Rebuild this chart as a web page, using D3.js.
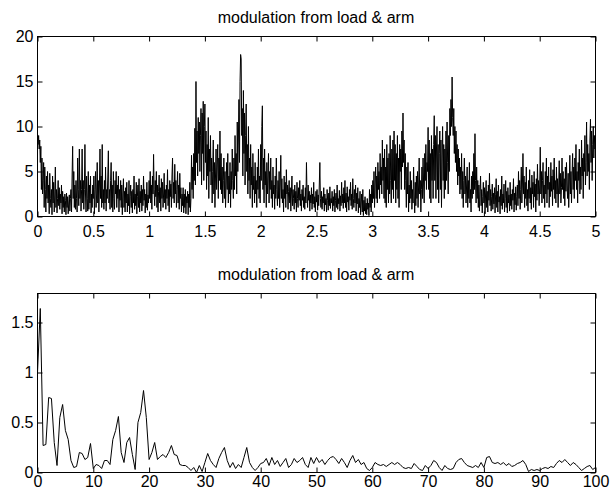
<!DOCTYPE html>
<html>
<head>
<meta charset="utf-8">
<script src="https://cdn.jsdelivr.net/npm/d3@7"></script>
<style>
  html, body { margin: 0; padding: 0; background: #fff; }
  svg text { font-family: "Liberation Sans", Arial, sans-serif; }
</style>
</head>
<body>
<div id="chart"></div>
<script>
// time signal, 0.005 s per sample, one array per half second
const sigA = [9.2,8,9,7.5,8.5,6,7.8,3,6.5,2.5, 4,6,1,5.5,3,0.5,4.5,2,5,1.5, 3.5,0.3,4.8,2,1,3,0.2,4.5,1.5,3.8,
  0.5,2.5,5.5,1,3,0.4,2,4,1.2,3.2, 0.8,2.5,1.5,3.5,0.3,2.8,1,2.2,0.5,2.5, 1.8,0.2,2.6,1,2.2,0.3,1.5,2.4,0.6,2,
  3,0.5,4.5,7.8,2,5,1,3.5,0.8,4, 2,0.5,6.5,3,1.2,7.5,2,4,0.6,3, 7.5,1.5,4,0.8,3,8,2.5,0.5,4.5,2, 0.6,5,0.8,3.5,1.5,4.5,0.4,2.5,1,3.5];
const sigB = [2,4.5,0.3,3,5,1,2.5,6,1.5,4, 0.5,3.5,7.5,2,4.5,1,8,1.5,3,0.8, 4,1.5,5.5,0.6,3,2,4.5,7.3,1.5,3,
  0.8,4,6,1,3.5,0.5,5,2,0.8,4, 2.5,5,1,3.5,2,4.5,0.5,3,1.8,4, 1,3.5,0.2,2.5,4.2,1,2.8,0.5,3.2,1.5,
  3.8,0.5,2.5,1.2,4,0.3,2.2,3.5,1,2.8, 0.4,3,1.5,4.5,0.8,2.5,1.2,3.8,0.3,2.2, 3.5,1,4.2,0.5,2.8,1.5,3.5,0.6,3,1.2,
  4.5,1.8,3,0.4,2.5,1,3.8,0.7,2.4,1.5];
const sigC = [4,2,5,1.5,3.5,0.8,4.5,2.5,6.9,3, 1.2,4,2.2,5,1,3.5,0.5,2.8,4.6,1.5, 3.2,0.6,4.2,2,3.8,1,2.5,4.8,1.5,3,
  0.8,3.5,2,5.2,1.2,3,0.5,4,2.2,3.6, 1,4.5,6.5,2,3.8,1.5,5.8,2.5,4,1, 3,5,1.5,3.5,0.8,4.8,2,3.2,0.5,2.5,
  1.2,3.2,0.4,2.5,1,3,0.3,2.2,1.5,2.8, 0.2,2.5,1,3.8,0.5,2,6.8,3,5.5,2, 7,4,9.8,3.5,15,6,9.5,4.5,11,7,
  10.5,5,9,12,3.5,11.5,7,12.8,4,10];
const sigD = [12.5,6,9.5,3,8,4.5,11,2,7.5,5, 9,3.5,6.5,1.5,5,8.5,2.5,6,1,4.5, 7.5,3,5.5,8,2,6.5,4,9.5,3,7,
  2.5,5.5,1.5,4,6.5,2,5,1,3.5,6, 3,7,1.5,4.5,2.5,6,1,5,3,7.5, 4,2,6.5,3,9,4.5,7,2.5,10.5,5,
  8.5,13,6,15,18,17.5,9,12,4.5,14, 7,11.5,3.5,9,12.5,5,8,2.5,10,4, 6.5,2,8,3.5,5.5,1,7,3,4.5,1.5,
  6,2.5,4,1,5.5,3,7.5,2,4.5,1.5];
const sigE = [8,4,10,12.3,3,6.5,1.5,7.5,3.5,5, 1,6,2.5,4.5,7,1.5,5,3,6.5,2, 4,1,5.5,2.5,3.5,0.8,4.5,2,6.5,3,
  1.2,4,2,5,1,3.5,6.8,2,4.2,1.5, 3,0.5,4.5,2,3.8,1,5.2,2.5,3.5,0.8, 2.8,4,1.5,3.2,0.6,2.5,4.5,1.2,3,2,
  0.8,3.5,1.5,2.8,0.5,3.8,2,1,3.2,1.8, 4,1.2,2.5,0.6,3,1.8,3.5,1,2.2,0.8, 3.2,1.5,6,2.5,1,3.5,1.8,2.8,0.6,2.4,
  1.5,3.2,0.8,2.5,1.4,3.8,1,2.2,0.5,2.8];
const sigF = [1.6,3,0.7,2.4,1.2,3.5,6,2,1,2.8, 0.8,2.2,1.5,3.2,0.6,2.5,1.3,2,0.5,3, 1.8,0.7,2.6,1.2,3.3,0.9,2,1.5,2.8,0.6,
  2.2,1.2,3,0.5,1.8,2.6,1,3.5,0.8,2, 1.4,2.9,0.6,2.3,1.2,3.8,1.5,2.5,0.9,3.2, 1.5,4,1,2.6,0.5,3.3,1.6,2.2,0.7,3,
  1.8,3.8,1.2,2.5,0.8,4.2,2,1,3,1.5, 3.5,0.6,2.6,1.4,3.2,0.4,2,1,2.8,0.2, 1.5,2.5,0.5,3,0.1,1.8,0.6,2.2,0.3,1.5,
  0.2,2,0.8,1.5,0.1,3,1,2.5,0.5,3.5];
const sigG = [1.5,4,2,5,1,3.5,5.5,2,4.5,1.5, 6,3,5,2,7,3.5,5.5,2.5,8.5,4, 6.5,2,7.5,1.5,5.5,1,8,3,6.5,1.5,
  7,2.5,9,4,1.5,7.5,3,8.5,2,9.5, 4,8,1.5,7,3,9,2,6.5,1,8, 5,7.5,3,9.5,5.5,11.5,6,8.5,3,7,
  4,1,5.5,2.5,6,0.5,3.5,1.5,5,2, 4,0.8,3,1.5,5.5,2.5,0.4,3.8,1.2,4.5, 2,5,1,3.5,6.5,2.5,4,0.5,3,5.5,
  2,6.5,3.5,1.5,7,4,8,3,6,5];
const sigH = [9.9,3,8.5,2,7,1.5,9,4,7.5,2, 8,11.2,4,9,2,7.5,10,3,8,1.5, 7,9.5,3,8.5,1,6.5,10,4,8,2,
  7.5,3,9.5,4,10.5,6,2.5,9,5,12, 9,13,10,15.5,11,9,12,7,10,6, 9.5,5,8,3.5,7.5,4.5,6.5,2.5,5.5,3,
  7,2,5,1,4,6.5,2.5,4.5,1.5,3.5, 5.5,1,4,2,6,1.5,3,0.5,4.5,2, 5,2.5,7,3,9.2,4,1.5,5.5,2,4,
  1,3.5,0.6,2.8,4.5,1.2,3,0.4,2.2,3.8];
const sigI = [1.5,3.2,0.3,2.5,4,1,2.8,0.5,3.5,1.8, 4.8,1.2,3,0.6,2.2,3.6,0.8,2.6,1.4,3.2, 0.4,2.4,4.2,1,2.8,0.5,3.5,1.6,2.2,0.3,
  3,1.2,4.5,0.8,2.5,1.5,3.6,0.5,2,4, 1,2.8,0.4,3.2,1.5,2.4,0.6,3.8,1.2,2.5, 0.8,3,1.8,4.2,0.5,2.6,1.3,3.3,0.7,2.2,
  3.5,1.2,5,2,4,0.8,3,5.5,1.5,3.5, 7,2.5,4.5,1,3.8,2,5.5,1.2,3,0.6, 4,2,5.2,1.5,3.2,0.8,4.6,2.5,3.8,1,
  5,2.2,3.6,0.5,4.2,1.8,5.8,2.5,4,1.2];
const sigJ = [3.5,7.7,2.5,5,1.5,4,6,2,3.5,1, 5,2.5,6.5,1.5,4.5,3,5.5,1,3.8,2.2, 6,2.8,4.5,1.2,5.2,3,6.5,2,4,1.5,
  5.5,2.5,4.2,1,3.5,6.2,2.5,4.8,1.5,3.2, 6.5,3,5,2,4.2,1.2,5.5,2.8,6,3.5, 2,4.8,1,3.5,6.8,2.5,5,1.5,4.5,7,
  3,5.5,2,6.5,4,8,3,5,1.5,6, 4,7.5,2.5,5.5,3,8.5,4.5,6.5,2,7, 5,9,3.5,6,10.5,4.5,8,5,7,3,
  8.5,10.8,6,9.5,4,8,10,6.5,9,7.5, 8];
const sampleStep = 0.005;

// spectrum, 0.5 Hz per bin, one array per 10 Hz
const specA = [1.0,1.64,0.27,0.28,0.75,0.74,0.3,0.07,0.55,0.68,0.42,0.33,0.12,0.05,0.06,0.2,0.19,0.13,0.15,0.29];
const specB = [0.04,0.08,0.07,0.04,0.12,0.12,0.08,0.33,0.42,0.56,0.2,0.1,0.3,0.35,0.18,0.03,0.5,0.6,0.82,0.55];
const specC = [0.13,0.2,0.3,0.13,0.16,0.18,0.15,0.2,0.27,0.18,0.17,0.08,0.07,0.07,0.05,0.02,0.05,0.0,0.07,0.01];
const specD = [0.1,0.19,0.12,0.08,0.05,0.14,0.2,0.25,0.12,0.05,0.1,0.04,0.08,0.05,0.15,0.25,0.1,0.05,0.02,0.05];
const specE = [0.09,0.1,0.14,0.07,0.15,0.08,0.12,0.06,0.1,0.14,0.05,0.08,0.14,0.1,0.12,0.15,0.08,0.05,0.15,0.09];
const specF = [0.15,0.1,0.13,0.08,0.12,0.15,0.16,0.13,0.09,0.14,0.1,0.05,0.12,0.17,0.1,0.13,0.08,0.1,0.04,0.02];
const specG = [0.05,0.1,0.08,0.07,0.08,0.06,0.08,0.1,0.08,0.1,0.08,0.05,0.04,0.05,0.04,0.09,0.06,0.03,0.02,0.07];
const specH = [0.04,0.07,0.12,0.1,0.05,0.02,0.07,0.04,0.03,0.04,0.1,0.13,0.14,0.1,0.07,0.06,0.05,0.07,0.05,0.1];
const specI = [0.05,0.15,0.16,0.1,0.09,0.1,0.08,0.1,0.07,0.09,0.06,0.07,0.09,0.1,0.12,0.08,0.01,0.03,0.02,0.03];
const specJ = [0.02,0.04,0.05,0.04,0.06,0.05,0.09,0.12,0.1,0.13,0.1,0.07,0.1,0.08,0.05,0.02,0.04,0.06,0.07,0.03,0.05];
const binStep = 0.5;

const titleText = 'modulation from load & arm';
const topXTicks = [0, 0.5, 1, 1.5, 2, 2.5, 3, 3.5, 4, 4.5, 5];
const topYTicks = [0, 5, 10, 15, 20];
const botXTicks = [0, 10, 20, 30, 40, 50, 60, 70, 80, 90, 100];
const botYTicks = [0, 0.5, 1, 1.5];

const signal = [].concat(sigA, sigB, sigC, sigD, sigE, sigF, sigG, sigH, sigI, sigJ)
  .map((v, i) => ({ x: i * sampleStep, y: v }));
const spectrum = [].concat(specA, specB, specC, specD, specE, specF, specG, specH, specI, specJ)
  .map((v, i) => ({ x: i * binStep, y: v }));

const W = 610, H = 498;
const svg = d3.select('#chart').append('svg')
  .attr('width', W).attr('height', H)
  .style('display', 'block');

svg.append('rect').attr('width', W).attr('height', H).attr('fill', '#fff');

function drawPanel(opt) {
  const left = 37, right = 595;
  const x = d3.scaleLinear().domain(opt.xDomain).range([left, right]);
  const y = d3.scaleLinear().domain(opt.yDomain).range([opt.bottom, opt.top]);

  const g = svg.append('g').attr('transform', 'translate(0.5,0.5)');

  // data line
  g.append('path')
    .datum(opt.data)
    .attr('fill', 'none')
    .attr('stroke', '#000')
    .attr('stroke-width', 1)
    .attr('d', d3.line().x(d => x(d.x)).y(d => y(d.y)));

  // box
  g.append('rect')
    .attr('x', left).attr('y', opt.top)
    .attr('width', right - left).attr('height', opt.bottom - opt.top)
    .attr('fill', 'none').attr('stroke', '#000').attr('stroke-width', 1);

  const fmt = d => String(d);

  const xb = g.append('g').attr('transform', `translate(0,${opt.bottom})`)
    .call(d3.axisBottom(x).tickValues(opt.xTicks).tickFormat(fmt)
      .tickSize(-5).tickSizeOuter(0).tickPadding(opt.xPad));
  const xt = g.append('g').attr('transform', `translate(0,${opt.top})`)
    .call(d3.axisTop(x).tickValues(opt.xTicks).tickFormat('').tickSize(-5).tickSizeOuter(0));
  const yl = g.append('g').attr('transform', `translate(${left},0)`)
    .call(d3.axisLeft(y).tickValues(opt.yTicks).tickFormat(fmt)
      .tickSize(-5).tickSizeOuter(0).tickPadding(4));
  const yr = g.append('g').attr('transform', `translate(${right},0)`)
    .call(d3.axisRight(y).tickValues(opt.yTicks).tickFormat('').tickSize(-5).tickSizeOuter(0));

  [xb, xt, yl, yr].forEach(a => {
    a.select('.domain').remove();
    a.selectAll('line').attr('stroke', '#000');
    a.attr('font-size', null).attr('font-family', null);
    a.selectAll('text')
      .attr('fill', '#000')
      .style('font-size', '16px')
      .style('font-family', '"Liberation Sans", Arial, sans-serif');
  });

  svg.append('text')
    .attr('x', (left + right) / 2)
    .attr('y', opt.titleY)
    .attr('text-anchor', 'middle')
    .style('font-size', '16px')
    .attr('fill', '#000')
    .text(titleText);
}

drawPanel({
  data: signal, xDomain: [0, 5], yDomain: [0, 20],
  top: 36, bottom: 216, xTicks: topXTicks, yTicks: topYTicks,
  xPad: 9, titleY: 23
});

drawPanel({
  data: spectrum, xDomain: [0, 100], yDomain: [0, 1.79],
  top: 293, bottom: 472, xTicks: botXTicks, yTicks: botYTicks,
  xPad: 3, titleY: 280
});
</script>
</body>
</html>
